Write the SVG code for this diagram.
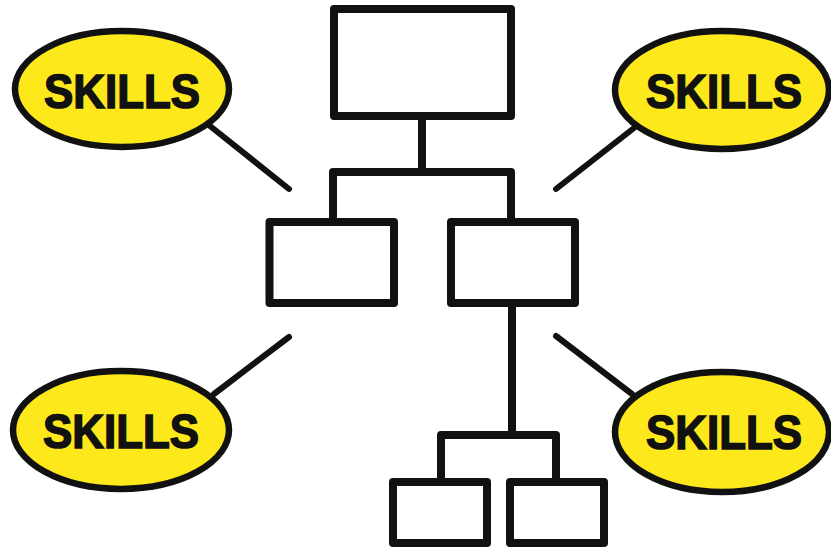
<svg xmlns="http://www.w3.org/2000/svg" width="831" height="549" viewBox="0 0 831 549">
<style>
.box{fill:#fff;stroke:#111;stroke-width:8;stroke-linejoin:round}
.bub{fill:#FDE81C;stroke:#111;stroke-width:6.5}
.lbl{font-family:"Liberation Sans",Arial,sans-serif;font-weight:bold;font-size:48px;fill:#111;stroke:#111;stroke-width:1.6;text-anchor:middle}
.con{fill:none;stroke:#111;stroke-width:8;stroke-linejoin:round}
.ptr{stroke:#111;stroke-width:6;stroke-linecap:round}
</style>
<rect width="831" height="549" fill="#fff"/>
<g id="connectors">
<path class="con" d="M422 120 V172 M333 218 V172 H511 V218"/>
<path class="con" d="M512 307 V435 M441 478 V435 H556 V478"/>
<line class="ptr" x1="210" y1="126" x2="289" y2="189"/>
<line class="ptr" x1="634" y1="128" x2="556" y2="189"/>
<line class="ptr" x1="214" y1="394" x2="289" y2="337"/>
<line class="ptr" x1="556" y1="336" x2="632" y2="394"/>
</g>
<g id="top"><rect class="box" x="334" y="9" width="177" height="107"/></g>
<g id="midLeft"><rect class="box" x="269.5" y="222" width="124.5" height="81"/></g>
<g id="midRight"><rect class="box" x="451" y="222" width="124" height="81"/></g>
<g id="botLeft"><rect class="box" x="393" y="482" width="94" height="61"/></g>
<g id="botRight"><rect class="box" x="510" y="482" width="94" height="61"/></g>
<g id="skillsTL"><ellipse class="bub" cx="122" cy="89" rx="107" ry="58"/><text class="lbl" x="122" y="108" textLength="156" lengthAdjust="spacingAndGlyphs">SKILLS</text></g>
<g id="skillsTR"><ellipse class="bub" cx="722" cy="90" rx="107" ry="59"/><text class="lbl" x="724" y="108" textLength="156" lengthAdjust="spacingAndGlyphs">SKILLS</text></g>
<g id="skillsBL"><ellipse class="bub" cx="121" cy="430" rx="108" ry="59"/><text class="lbl" x="121" y="448" textLength="156" lengthAdjust="spacingAndGlyphs">SKILLS</text></g>
<g id="skillsBR"><ellipse class="bub" cx="722" cy="432" rx="107" ry="60"/><text class="lbl" x="724" y="449" textLength="156" lengthAdjust="spacingAndGlyphs">SKILLS</text></g>
</svg>
